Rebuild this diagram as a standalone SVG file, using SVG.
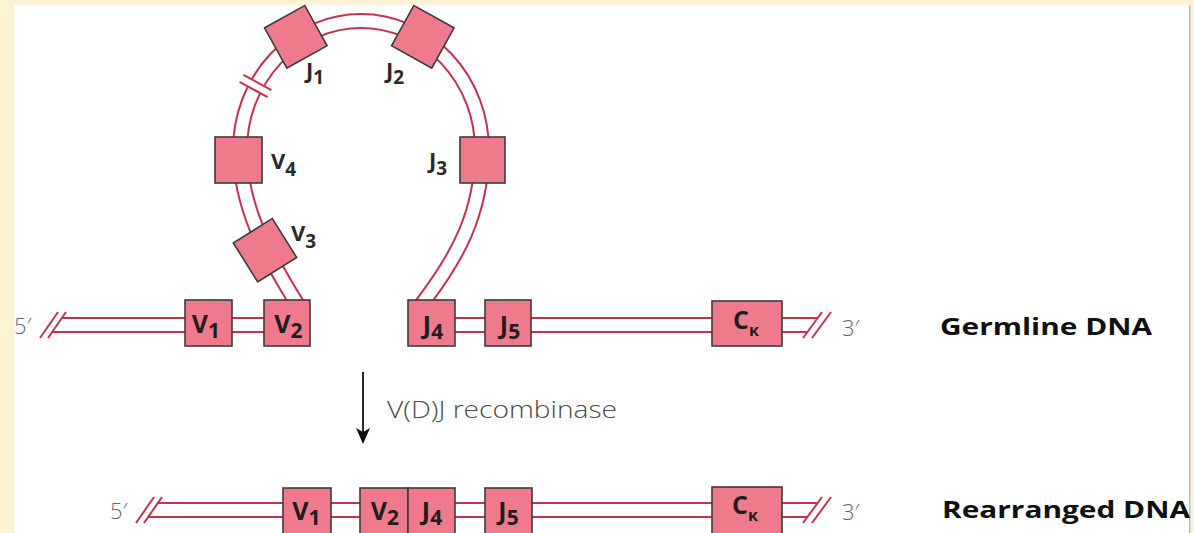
<svg xmlns="http://www.w3.org/2000/svg" width="1194" height="533" viewBox="0 0 1194 533">
  <style>
    .strand { stroke: #C6324C; stroke-width: 2; fill: none; }
    .dna-o { fill: none; stroke: #C6324C; stroke-width: 16; }
    .dna-i { fill: none; stroke: #ffffff; stroke-width: 12; }
    .box { fill: #EE7A8B; stroke: #3b3b3b; stroke-width: 1.6; }
    .blab { font-family: "Open Sans", "Liberation Sans", sans-serif; font-weight: 700; font-size: 25px; fill: #1e1e1e; }
    .elab { font-family: "Open Sans", "Liberation Sans", sans-serif; font-weight: 700; font-size: 22px; fill: #2a2a2a; }
    .end { font-family: "Open Sans", "Liberation Sans", sans-serif; font-weight: 300; font-size: 22px; fill: #666; }
    .title { font-family: "Open Sans", "Liberation Sans", sans-serif; font-weight: 700; font-size: 23px; fill: #111; }
    .step { font-family: "Open Sans", "Liberation Sans", sans-serif; font-weight: 300; font-size: 23px; fill: #4a4a4a; }
  </style>

  <!-- background -->
  <rect x="0" y="0" width="1194" height="533" fill="#FFF2D5"/>
  <rect x="14" y="5" width="1175" height="528" fill="#ffffff"/>
  <line x1="1189.8" y1="5" x2="1189.8" y2="533" stroke="#bdbdbd" stroke-width="1.5"/>

  <g id="connectors">
    <!-- loop -->
    <path class="dna-o" d="M 302,311 L 296,302 C 265,252 240,205 240,150 A 121 129 0 0 1 482,150 C 482,215 455,260 424,301 L 418,309"/>
    <path class="dna-i" d="M 302,311 L 296,302 C 265,252 240,205 240,150 A 121 129 0 0 1 482,150 C 482,215 455,260 424,301 L 418,309"/>
    <g transform="translate(255.5 86) rotate(-61.3)">
      <rect x="-4" y="-10" width="8" height="20" fill="#ffffff"/>
      <line class="strand" x1="-4" y1="-16" x2="-4" y2="16"/>
      <line class="strand" x1="4" y1="-16" x2="4" y2="16"/>
    </g>

    <!-- germline -->
    <line class="strand" x1="40" y1="338" x2="58" y2="312"/>
    <line class="strand" x1="48" y1="338" x2="66" y2="312"/>
    <line class="strand" x1="62" y1="318" x2="185" y2="318"/>
    <line class="strand" x1="52" y1="332" x2="185" y2="332"/>
    <line class="strand" x1="232" y1="318" x2="264" y2="318"/>
    <line class="strand" x1="232" y1="332" x2="264" y2="332"/>
    <line class="strand" x1="455" y1="318" x2="485" y2="318"/>
    <line class="strand" x1="455" y1="332" x2="485" y2="332"/>
    <line class="strand" x1="531" y1="318" x2="712" y2="318"/>
    <line class="strand" x1="531" y1="332" x2="712" y2="332"/>
    <line class="strand" x1="782" y1="318" x2="817.5" y2="318"/>
    <line class="strand" x1="782" y1="332" x2="807.5" y2="332"/>
    <line class="strand" x1="803" y1="338" x2="822" y2="312"/>
    <line class="strand" x1="812" y1="338" x2="831" y2="312"/>

    <!-- arrow -->
    <line x1="363" y1="372" x2="363" y2="434" stroke="#111" stroke-width="1.8"/>
    <path d="M 363,444 L 356,428 L 363,432 L 370,428 Z" fill="#111"/>

    <!-- rearranged -->
    <line class="strand" x1="136" y1="523" x2="154" y2="497"/>
    <line class="strand" x1="144" y1="523" x2="162" y2="497"/>
    <line class="strand" x1="158" y1="503" x2="283" y2="503"/>
    <line class="strand" x1="148" y1="517" x2="283" y2="517"/>
    <line class="strand" x1="331" y1="503" x2="360" y2="503"/>
    <line class="strand" x1="331" y1="517" x2="360" y2="517"/>
    <line class="strand" x1="455" y1="503" x2="485" y2="503"/>
    <line class="strand" x1="455" y1="517" x2="485" y2="517"/>
    <line class="strand" x1="532" y1="503" x2="712" y2="503"/>
    <line class="strand" x1="532" y1="517" x2="712" y2="517"/>
    <line class="strand" x1="782" y1="503" x2="817.5" y2="503"/>
    <line class="strand" x1="782" y1="517" x2="807.5" y2="517"/>
    <line class="strand" x1="803" y1="523" x2="822" y2="497"/>
    <line class="strand" x1="812" y1="523" x2="831" y2="497"/>
  </g>

  <!-- loop nodes -->
  <g id="J1">
    <rect class="box" x="-23" y="-23" width="46" height="46" transform="translate(295.8 36.8) rotate(-29)"/>
    <text class="elab" x="306" y="78">J<tspan dy="6" font-size="19">1</tspan></text>
  </g>
  <g id="J2">
    <rect class="box" x="-23" y="-23" width="46" height="46" transform="translate(422.8 36.8) rotate(29)"/>
    <text class="elab" x="386" y="78">J<tspan dy="6" font-size="19">2</tspan></text>
  </g>
  <g id="V4">
    <rect class="box" x="215" y="137" width="47" height="46"/>
    <text class="elab" x="271" y="169">V<tspan dy="7" font-size="19">4</tspan></text>
  </g>
  <g id="J3">
    <rect class="box" x="460" y="137" width="45" height="46"/>
    <text class="elab" x="429" y="168">J<tspan dy="7" font-size="19">3</tspan></text>
  </g>
  <g id="V3">
    <rect class="box" x="-23" y="-23" width="46" height="46" transform="translate(265 250.2) rotate(-32)"/>
    <text class="elab" x="291" y="241">V<tspan dy="7" font-size="19">3</tspan></text>
  </g>

  <!-- germline nodes -->
  <g id="germ-5">
    <text class="end" x="14" y="334">5′</text>
  </g>
  <g id="germ-V1">
    <rect class="box" x="185" y="300" width="47" height="46"/>
    <text class="blab" x="206" y="333" text-anchor="middle">V<tspan dy="5" font-size="21">1</tspan></text>
  </g>
  <g id="germ-V2">
    <rect class="box" x="264" y="300" width="46" height="46"/>
    <text class="blab" x="288.5" y="333" text-anchor="middle">V<tspan dy="5" font-size="21">2</tspan></text>
  </g>
  <g id="germ-J4">
    <rect class="box" x="408" y="300" width="47" height="46"/>
    <text class="blab" x="433" y="334" text-anchor="middle">J<tspan dy="5" font-size="21">4</tspan></text>
  </g>
  <g id="germ-J5">
    <rect class="box" x="485" y="300" width="46" height="46"/>
    <text class="blab" x="510" y="334" text-anchor="middle">J<tspan dy="5" font-size="21">5</tspan></text>
  </g>
  <g id="germ-Ck">
    <rect class="box" x="712" y="301" width="70" height="45"/>
    <text class="blab" x="746" y="329" text-anchor="middle">C<tspan dy="7" font-size="16">κ</tspan></text>
  </g>
  <g id="germ-3">
    <text class="end" x="842" y="336">3′</text>
  </g>
  <text class="title" x="940" y="335" textLength="212" lengthAdjust="spacingAndGlyphs">Germline DNA</text>

  <!-- step label -->
  <text class="step" x="387" y="418" textLength="230" lengthAdjust="spacingAndGlyphs">V(D)J recombinase</text>

  <!-- rearranged nodes -->
  <g id="re-5">
    <text class="end" x="110" y="519">5′</text>
  </g>
  <g id="re-V1">
    <rect class="box" x="283" y="488" width="48" height="46"/>
    <text class="blab" x="306.5" y="520" text-anchor="middle">V<tspan dy="5" font-size="21">1</tspan></text>
  </g>
  <g id="re-V2">
    <rect class="box" x="360" y="488" width="48" height="46"/>
    <text class="blab" x="385" y="520" text-anchor="middle">V<tspan dy="5" font-size="21">2</tspan></text>
  </g>
  <g id="re-J4">
    <rect class="box" x="408" y="488" width="47" height="46"/>
    <text class="blab" x="432" y="520" text-anchor="middle">J<tspan dy="5" font-size="21">4</tspan></text>
  </g>
  <g id="re-J5">
    <rect class="box" x="485" y="488" width="47" height="46"/>
    <text class="blab" x="508.5" y="520" text-anchor="middle">J<tspan dy="5" font-size="21">5</tspan></text>
  </g>
  <g id="re-Ck">
    <rect class="box" x="712" y="487" width="70" height="47"/>
    <text class="blab" x="745" y="514" text-anchor="middle">C<tspan dy="7" font-size="16">κ</tspan></text>
  </g>
  <g id="re-3">
    <text class="end" x="842" y="520">3′</text>
  </g>
  <text class="title" x="942" y="518" textLength="248" lengthAdjust="spacingAndGlyphs">Rearranged DNA</text>
</svg>
